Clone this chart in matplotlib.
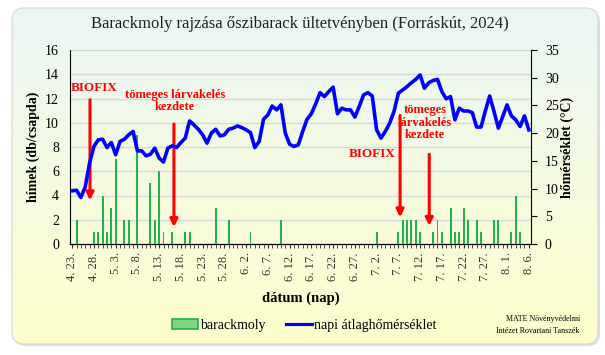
import numpy as np
import pandas as pd
import matplotlib.pyplot as plt
from matplotlib.patches import FancyBboxPatch, Patch
from matplotlib.lines import Line2D

plt.rcParams['font.family'] = ['Liberation Serif', 'DejaVu Serif']

# napok: 2024.04.23 - 2024.08.06
dates = pd.date_range('2024-04-23', '2024-08-06', freq='D')
date_labels = [f"{d.month}. {d.day}." for d in dates]

# barackmoly himek (db/csapda), naponta
moth_counts = [0, 2, 0, 0, 0, 1, 1, 4, 1, 3,
               7, 0, 2, 2, 0, 9, 0, 0, 5, 2,
               6, 1, 0, 1, 0, 0, 1, 1, 0, 0,
               0, 0, 0, 3, 0, 0, 2, 0, 0, 0,
               0, 1, 0, 0, 0, 0, 0, 0, 2, 0,
               0, 0, 0, 0, 0, 0, 0, 0, 0, 0,
               0, 0, 0, 0, 0, 0, 0, 0, 0, 0,
               1, 0, 0, 0, 0, 1, 2, 2, 2, 2,
               1, 0, 0, 1, 2, 1, 0, 3, 1, 1,
               3, 2, 0, 2, 1, 0, 0, 2, 2, 0,
               0, 1, 4, 1, 0, 0]

# napi atlaghomerseklet (C)
temp = [9.6, 9.7, 8.4, 10.3, 14.6, 17.6, 18.8, 18.9, 17.4, 18.3,
        16.1, 18.5, 18.9, 19.7, 20.3, 16.8, 16.8, 15.9, 16.2, 17.3,
        15.5, 14.8, 17.3, 17.7, 17.4, 18.3, 19.1, 22.2, 21.5, 20.7,
        19.7, 18.2, 20.0, 20.7, 19.5, 19.7, 20.7, 20.9, 21.3, 21.0,
        20.6, 20.1, 17.4, 18.5, 22.5, 23.3, 24.9, 24.2, 25.1, 20.0,
        18.0, 17.6, 17.9, 20.3, 22.5, 23.5, 25.3, 27.3, 26.6, 27.5,
        28.3, 23.5, 24.5, 24.2, 24.2, 22.9, 24.8, 26.9, 27.3, 26.7,
        20.6, 19.1, 20.3, 21.8, 23.9, 27.2, 27.8, 28.4, 29.1, 29.7,
        30.5, 28.1, 29.1, 29.5, 29.7, 27.5, 26.2, 26.6, 22.4, 24.5,
        24.0, 24.0, 23.7, 21.1, 21.1, 24.0, 26.7, 23.9, 20.9, 23.0,
        25.1, 23.1, 22.4, 21.2, 23.1, 20.6]

x = np.arange(len(dates))

fig = plt.figure(figsize=(6.05, 3.55), dpi=100)

# hatter: lekerekitett doboz szinatmenettel
bg = fig.add_axes([0, 0, 1, 1], zorder=-5)
bg.axis('off')
shadow = FancyBboxPatch((14, 10), 586, 336, boxstyle='round,pad=0,rounding_size=12',
                        facecolor='#dedede', edgecolor='none', zorder=1)
bg.add_patch(shadow)
box = FancyBboxPatch((12, 8), 586, 336, boxstyle='round,pad=0,rounding_size=12',
                     facecolor='none', edgecolor='#d6d6d6', lw=0.8, zorder=3)
bg.add_patch(box)
top_c = np.array([234, 246, 246]) / 255
bot_c = np.array([255, 255, 204]) / 255
t = np.linspace(0, 1, 256)[:, None]
grad = (top_c * (1 - t) + bot_c * t)[:, None, :]
grad = np.repeat(grad, 2, axis=1)
im = bg.imshow(grad, extent=(12, 598, 344, 8), aspect='auto', interpolation='bilinear', zorder=2)
im.set_clip_path(box)
bg.set_xlim(0, 605)
bg.set_ylim(355, 0)

ax = fig.add_axes([70 / 605, 1 - 244 / 355, 461 / 605, 194 / 355])
ax.set_facecolor('none')
ax.bar(x, moth_counts, width=0.45, color='#22b14c', zorder=3)
ax.set_xlim(-0.5, len(x) - 0.5)
ax.set_ylim(0, 16)
ax.set_yticks(np.arange(0, 17, 2))
ax.yaxis.grid(True, color='#d9d9d9', lw=1)
ax.set_axisbelow(True)
ax.set_xticks(x[::5])
ax.set_xticklabels(date_labels[::5], rotation=90, fontsize=9)
ax.set_xticks(x, minor=True)
ax.tick_params(axis='x', which='both', direction='out', length=3, pad=3, colors='#333333')
ax.tick_params(axis='y', labelsize=10, length=0, pad=8)
ax.spines['top'].set_visible(False)
ax.spines['right'].set_visible(False)

ax2 = ax.twinx()
ax2.plot(x, temp, color='#0000ff', lw=2.6, zorder=4)
ax2.set_ylim(0, 35)
ax2.set_yticks(np.arange(0, 36, 5))
ax2.tick_params(axis='y', labelsize=10, direction='out', length=4, pad=6)
ax2.spines['top'].set_visible(False)
ax2.spines['left'].set_visible(False)

# jelolesek
red = '#ff0000'
arrow = dict(arrowstyle='-|>', color=red, lw=2.2, mutation_scale=11, shrinkA=0, shrinkB=0)
ax.text(-0.3, 12.9, 'BIOFIX', color=red, fontsize=9.5, fontweight='bold', ha='left', va='center')
ax.annotate('', xy=(4.1, 3.6), xytext=(4.1, 11.9), arrowprops=arrow)
ax.text(23.7, 11.8, 'tömeges lárvakelés\nkezdete', color=red, fontsize=9, fontweight='bold',
        ha='center', va='center', linespacing=1.05)
ax.annotate('', xy=(23.4, 1.4), xytext=(23.4, 9.9), arrowprops=arrow)
ax.text(69.0, 7.4, 'BIOFIX', color=red, fontsize=9.5, fontweight='bold', ha='center', va='center')
ax.annotate('', xy=(75.4, 2.2), xytext=(75.4, 10.6), arrowprops=arrow)
ax.text(81.1, 10.0, 'tömeges\nlárvakelés\nkezdete', color=red, fontsize=9, fontweight='bold',
        ha='center', va='center', linespacing=1.05)
ax.annotate('', xy=(82.1, 1.5), xytext=(82.1, 7.4), arrowprops=arrow)

fig.text(300 / 605, 1 - 24 / 355, 'Barackmoly rajzása őszibarack ültetvényben (Forráskút, 2024)',
         ha='center', va='center', fontsize=12, color='#222222')
fig.text(33 / 605, 1 - 147 / 355, 'hímek (db/csapda)', rotation=90, ha='center', va='center',
         fontsize=10, fontweight='bold')
fig.text(567 / 605, 1 - 147 / 355, 'hőmérséklet (°C)', rotation=90, ha='center', va='center',
         fontsize=10, fontweight='bold')
fig.text(301 / 605, 1 - 298 / 355, 'dátum (nap)', ha='center', va='center',
         fontsize=10.5, fontweight='bold')

handles = [Patch(facecolor='#7ed67e', edgecolor='#22b14c', lw=1.2),
           Line2D([], [], color='#0000ff', lw=2.3)]
fig.legend(handles, ['barackmoly', 'napi átlaghőmérséklet'], loc='center',
           bbox_to_anchor=(304 / 605, 1 - 325 / 355), ncol=2, frameon=False,
           fontsize=10, handlelength=1.9, handletextpad=0.1, columnspacing=1.5)

fig.text(580 / 605, 1 - 319 / 355, 'MATE Növényvédelmi', ha='right', va='center', fontsize=5.8)
fig.text(580 / 605, 1 - 331 / 355, 'Intézet Rovartani Tanszék', ha='right', va='center', fontsize=5.8)

plt.savefig('out.png', dpi=100)
